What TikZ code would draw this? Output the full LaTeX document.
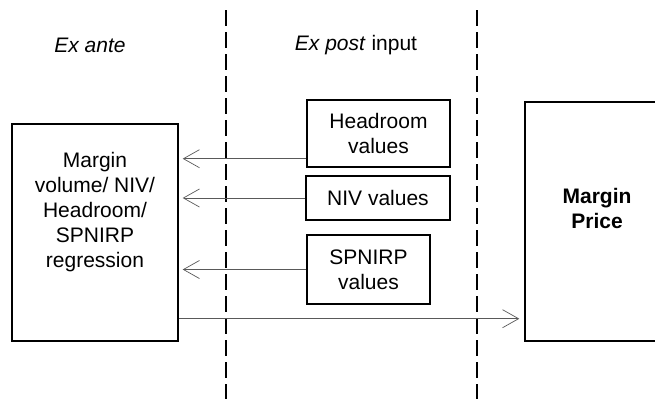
\documentclass[tikz,border=0pt]{standalone}
\usepackage{fontspec}
\setmainfont{Liberation Sans}
\usetikzlibrary{arrows.meta}

\begin{document}
\begin{tikzpicture}[x=1pt,y=-1pt,font=\fontsize{21}{25}\selectfont,
  box/.style={rectangle,draw,line width=1.4pt,align=center},
  divider/.style={line width=1.6pt,dash pattern=on 16pt off 6pt},
  arr/.style={-{Straight Barb[length=16pt,width=18pt]},draw=black!65,line width=0.7pt,shorten >=4pt}]
\clip (0,0) rectangle (655,399);
\draw[divider] (226,10) -- (226,399);
\draw[divider] (477,10) -- (477,399);
\node (exante) at (90,45) {\textit{Ex ante}};
\node (expost) at (356,45) {\textit{Ex post} input};
\node[box,minimum width=166pt,minimum height=217pt] (regr) at (95,232.5) {};
\node[align=center] (regrtext) at (95,212) {Margin\\volume/ NIV/\\Headroom/\\SPNIRP\\regression};
\node[box,minimum width=143pt,minimum height=67pt] (head) at (378.5,133.5) {Headroom\\values};
\node[box,minimum width=144pt,minimum height=44pt] (niv) at (378,198) {NIV values};
\node[box,minimum width=123pt,minimum height=69pt] (spn) at (368.5,269.5) {SPNIRP\\values};
\node[box,minimum width=160pt,minimum height=239pt] (price) at (605,221.5) {};
\node[align=center] (pricetext) at (597,208) {\textbf{Margin}\\\textbf{Price}};
\path ([yshift=9pt]head.south west) edge [arr] ([yshift=9pt]head.south west -| regr.east);
\path (niv.west) edge [arr] (niv.west -| regr.east);
\path (spn.west) edge [arr] (spn.west -| regr.east);
\path ([yshift=23pt]regr.south east) edge [arr,shorten >=5pt] ([yshift=23pt]regr.south east -| price.west);
\end{tikzpicture}
\end{document}
